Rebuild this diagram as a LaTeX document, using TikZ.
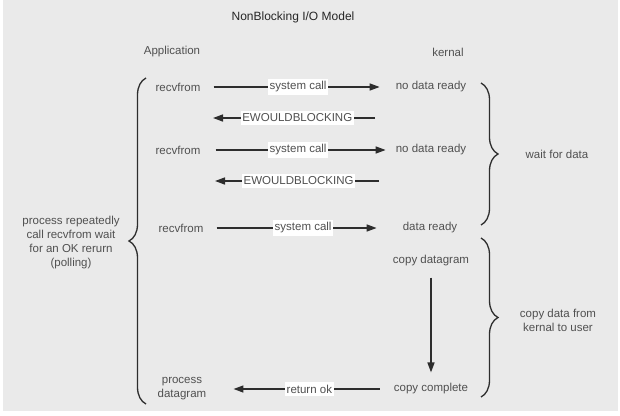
\documentclass[tikz,border=0pt]{standalone}
\usepackage{fontspec}
\setmainfont{Liberation Sans}
\usetikzlibrary{arrows.meta,decorations.pathreplacing}
\definecolor{bg}{RGB}{234,234,234}
\definecolor{txt}{RGB}{80,80,80}
\definecolor{ln}{RGB}{45,45,45}
\begin{document}
\begin{tikzpicture}[x=1pt,y=-1pt,
  lbl/.style={font=\fontsize{11.5}{14}\selectfont, text=txt, inner sep=1pt, align=center},
  ttl/.style={font=\fontsize{12}{14}\selectfont, text=black!85, inner sep=1pt},
  tag/.style={fill=white, font=\fontsize{11.5}{14}\selectfont, text=txt, inner xsep=1.5pt, inner ysep=2.5pt},
  arr/.style={draw=ln, line width=1.5pt, -{Triangle[length=10pt,width=7pt]}},
  br/.style={draw=ln, line width=1.3pt, decorate, decoration={brace, amplitude=17pt}}]
\fill[white] (0,0) rectangle (620,415);
\fill[bg] (3,0) rectangle (618,411);
\useasboundingbox (0,0) rectangle (620,415);

\node[ttl] (title) at (293,17) {NonBlocking I/O Model};
\node[lbl] (app) at (172,52) {Application};
\node[lbl] (ker) at (448,52) {kernal};

\node[lbl] (r1) at (178,87) {recvfrom};
\node[lbl] (k1) at (431,87) {no data ready};
\node[lbl] (r3) at (178,150) {recvfrom};
\node[lbl] (k3) at (431,150) {no data ready};
\node[lbl] (r5) at (181,228) {recvfrom};
\node[lbl] (k5) at (430,228) {data ready};
\node[lbl] (cd) at (431,261) {copy datagram};
\node[lbl] (cc) at (431,389) {copy complete};
\node[lbl] (pd) at (182,389) {process\\datagram};
\node[lbl] (poll) at (71,242.5) {process repeatedly\\call recvfrom wait\\for an OK rerurn\\(polling)};
\node[lbl] (wfd) at (557,154) {wait for data};
\node[lbl] (cdk) at (558,320) {copy data from\\kernal to user};

\coordinate (e2s) at (375,118);
\coordinate (e2e) at (213,118);
\coordinate (e4s) at (379,181);
\coordinate (e4e) at (215,181);

\draw[arr, shorten <=12pt, shorten >=15pt] (r1) -- node[tag]{system call} (k1);
\draw[arr] (e2s) -- node[tag, pos=0.48]{EWOULDBLOCKING} (e2e);
\draw[arr, shorten <=14pt, shorten >=9pt] (r3) -- node[tag]{system call} (k3);
\draw[arr] (e4s) -- node[tag, pos=0.49]{EWOULDBLOCKING} (e4e);
\draw[arr, shorten <=12pt, shorten >=25pt] (r5) -- node[tag]{system call} (k5);
\draw[arr, shorten <=10pt, shorten >=10pt] (cd) -- (cc);
\draw[arr, shorten <=13pt, shorten >=26pt] (cc) -- node[tag, pos=0.45]{return ok} (pd);

\draw[br] (146,404) -- (146,78);
\draw[br] (481,83) -- (481,225);
\draw[br] (481,238) -- (481,397);
\end{tikzpicture}
\end{document}
